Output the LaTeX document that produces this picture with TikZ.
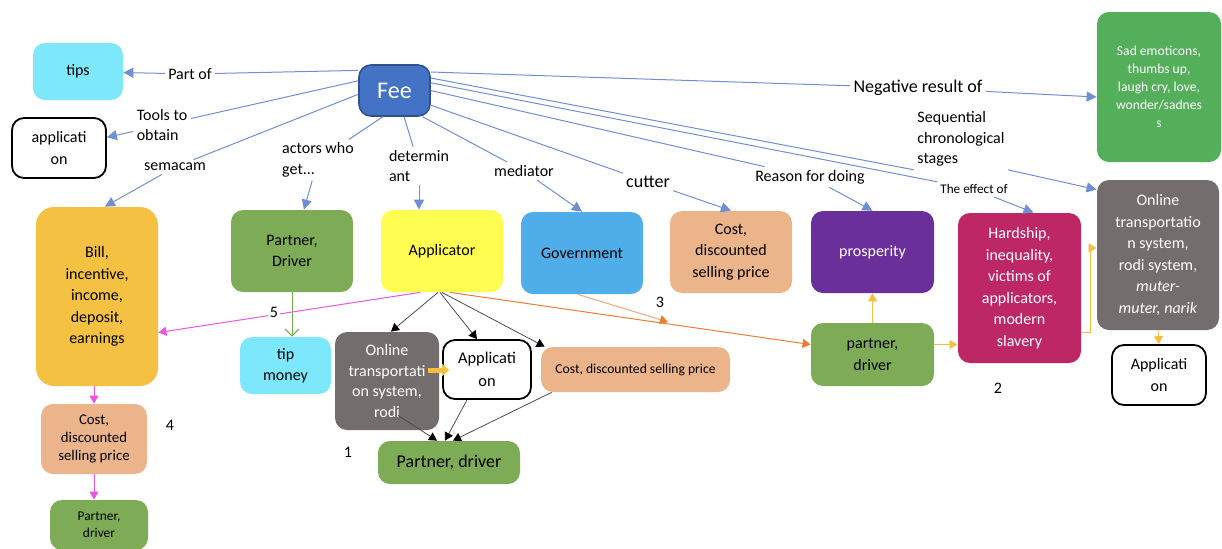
\documentclass[tikz,border=0pt]{standalone}
\usepackage{fontspec}
\setmainfont{Carlito}
\usetikzlibrary{arrows.meta}

\definecolor{feeblue}{HTML}{4472C4}
\definecolor{feeborder}{HTML}{2F528F}
\definecolor{lineblue}{HTML}{6F8FD2}
\definecolor{tipcyan}{HTML}{7DE8FB}
\definecolor{billorange}{HTML}{F4C143}
\definecolor{pgreen}{HTML}{7EAB55}
\definecolor{appyellow}{HTML}{FFFC52}
\definecolor{govblue}{HTML}{4FAEE9}
\definecolor{costtan}{HTML}{ECB48A}
\definecolor{prosp}{HTML}{6B2F9B}
\definecolor{hardmag}{HTML}{BE2766}
\definecolor{sadgreen}{HTML}{54AF5B}
\definecolor{sysgray}{HTML}{736E6D}
\definecolor{pinkline}{HTML}{EE55DD}
\definecolor{orangeline}{HTML}{ED7D31}
\definecolor{lightorange}{HTML}{F2A774}
\definecolor{yellowline}{HTML}{F5BE3F}
\definecolor{greenline}{HTML}{70AD47}

\begin{document}
\begin{tikzpicture}[x=0.5pt,y=-0.5pt,
    box/.style={rounded corners=6pt, align=center, inner sep=1pt, font=\fontsize{8}{10.75}\selectfont},
    whitebox/.style={box, draw=black, line width=0.9pt, fill=white},
    lbl/.style={align=left, inner sep=1.5pt, font=\fontsize{8}{10.25}\selectfont},
    num/.style={inner sep=1pt, fill=white, font=\fontsize{8}{10}\selectfont},
    blue line/.style={draw=lineblue, line width=0.5pt},
    blue arrow/.style={blue line, -{Triangle[length=5pt,width=5pt]}},
    black arrow/.style={draw=black!70, line width=0.4pt, -{Triangle[length=4pt,width=4.5pt,color=black]}},
    pink arrow/.style={draw=pinkline, line width=0.5pt, -{Triangle[length=4pt,width=4.5pt]}},
    orange arrow/.style={draw=orangeline, line width=0.5pt, -{Triangle[length=4pt,width=4.5pt]}},
    light orange arrow/.style={draw=lightorange, line width=0.5pt, -{Triangle[length=4pt,width=4.5pt,color=orangeline]}},
    yellow arrow/.style={draw=yellowline, line width=0.5pt, -{Triangle[length=4pt,width=4.5pt]}},
    yellow block/.style={draw=yellowline, line width=2.5pt, -{Triangle[length=3.5pt,width=6pt]}},
    green arrow/.style={draw=greenline, line width=0.5pt, -{Straight Barb[length=3.5pt,width=7pt]}}]

  \useasboundingbox (0,0) rectangle (1222,548);

  % boxes
  \node[box, fill=tipcyan, minimum width=45pt, minimum height=28.5pt] (tips) at (78,71.5) {tips};
  \node[whitebox, minimum width=47pt, minimum height=30pt] (app1) at (59,148) {applicati\\on};
  \node[box, fill=feeblue, draw=feeborder, line width=0.8pt, text=white, font=\fontsize{12}{14}\selectfont,
        minimum width=35.5pt, minimum height=25.5pt] (fee) at (394.5,90.5) {Fee};
  \node[box, rounded corners=9pt, fill=billorange, minimum width=61pt, minimum height=89.5pt] (bill) at (97,296.5)
        {Bill,\\incentive,\\income,\\deposit,\\earnings};
  \node[box, fill=pgreen, minimum width=61pt, minimum height=41pt] (driver) at (292,251) {Partner,\\Driver};
  \node[box, fill=appyellow, minimum width=61pt, minimum height=41pt] (applicator) at (442,251) {Applicator};
  \node[box, fill=govblue, minimum width=61pt, minimum height=41pt] (gov) at (582,253) {Government};
  \node[box, fill=costtan, minimum width=61pt, minimum height=41pt] (cost) at (731,252) {Cost,\\discounted\\selling price};
  \node[box, fill=prosp, text=white, minimum width=61.5pt, minimum height=41pt] (prosperity) at (872.5,252) {prosperity};
  \node[box, fill=hardmag, text=white, minimum width=61.5pt, minimum height=75pt] (hardship) at (1019.5,288)
        {Hardship,\\inequality,\\victims of\\applicators,\\modern\\slavery};
  \node[box, fill=sadgreen, text=white, font=\fontsize{6.8}{9}\selectfont, minimum width=62pt, minimum height=75pt] (sad) at (1159,87)
        {Sad emoticons,\\thumbs up,\\laugh cry, love,\\wonder/sadnes\\s};
  \node[box, fill=sysgray, text=white, minimum width=61pt, minimum height=75pt] (sysR) at (1158,255)
        {Online\\transportatio\\n system,\\rodi system,\\\textit{muter-}\\\textit{muter, narik}};
  \node[whitebox, minimum width=47pt, minimum height=30pt] (appR) at (1159,375) {Applicati\\on};
  \node[box, fill=tipcyan, minimum width=45.5pt, minimum height=28.5pt] (tipmoney) at (285.5,365.5) {tip\\money};
  \node[box, fill=sysgray, text=white, font=\fontsize{8}{10.25}\selectfont, minimum width=52pt, minimum height=49pt] (sysM) at (387,381)
        {Online\\transportati\\on system,\\rodi};
  \node[whitebox, font=\fontsize{8.2}{11.5}\selectfont, minimum width=44pt, minimum height=29.5pt] (appM) at (487,369.5) {Applicati\\on};
  \node[box, fill=costtan, font=\fontsize{6.8}{9}\selectfont, minimum width=94.5pt, minimum height=22.5pt] (costwide) at (635.5,369.5)
        {Cost, discounted selling price};
  \node[box, fill=pgreen, font=\fontsize{9}{11}\selectfont, minimum width=71pt, minimum height=21.5pt] (driverM) at (449,462.5) {Partner, driver};
  \node[box, fill=costtan, font=\fontsize{7.4}{9}\selectfont, minimum width=53pt, minimum height=35pt] (costL) at (94,439)
        {Cost,\\discounted\\selling price};
  \node[box, fill=pgreen, font=\fontsize{6.7}{8.5}\selectfont, minimum width=49pt, minimum height=25pt] (driverL) at (99,525) {Partner,\\driver};
  \node[box, fill=pgreen, minimum width=61.5pt, minimum height=31.5pt] (driverR) at (872.5,354.5) {partner,\\driver};

  % labels on the fee lines
  \node[lbl] (lpart) at (190,74) {Part of};
  \node[lbl] (ltools) at (162,125) {Tools to\\obtain};
  \node[lbl] (lsema) at (175,167) {semacam};
  \node[lbl] (lactors) at (318,160) {actors who\\get...};
  \node[lbl] (ldet) at (419,166) {determin\\ant};
  \node[lbl] (lmed) at (524,171) {mediator};
  \node[lbl, font=\fontsize{9}{11}\selectfont] (lcut) at (648,182) {cutter};
  \node[lbl] (lreason) at (810,177) {Reason for doing};
  \node[lbl, font=\fontsize{9}{11}\selectfont] (lneg) at (918,88) {Negative result of};
  \node[lbl] (lseq) at (961,139) {Sequential\\chronological\\stages};
  \node[lbl, font=\fontsize{6.6}{8}\selectfont] (leffect) at (974,189) {The effect of};

  % fee lines
  \draw[blue line] (fee.151) -- (lpart);
  \draw[blue arrow] (lpart) -- (tips);
  \draw[blue line] (fee.165) -- (ltools);
  \draw[blue arrow] (ltools) -- (app1);
  \draw[blue line] (fee.186) -- (lsema);
  \draw[blue arrow] (lsema) -- ([xshift=4pt]bill.north);
  \draw[blue line] (fee.246) -- (lactors);
  \draw[blue arrow] (lactors) -- ([xshift=6pt]driver.north);
  \draw[blue line] (fee.-70) -- (ldet);
  \draw[blue arrow] (ldet.south) -- (ldet.south |- applicator.north);
  \draw[blue line] (fee.-43) -- (lmed);
  \draw[blue arrow] (lmed) -- (gov.north);
  \draw[blue line] (fee.-22) -- (lcut);
  \draw[blue arrow] (lcut) -- (cost.north);
  \draw[blue line] (fee.east) -- (lreason);
  \draw[blue arrow] (lreason) -- (prosperity.north);
  \draw[blue line] (fee.12) -- (leffect);
  \draw[blue arrow] (leffect) -- ([xshift=7pt]hardship.north);
  \draw[blue line] (fee.19) -- (lseq.south west);
  \draw[blue arrow] (lseq.south east) -- ([yshift=-5pt]sysR.north west);
  \draw[blue line] (fee.27) -- (lneg);
  \draw[blue arrow] (lneg) -- ([yshift=-5pt]sad.west);

  % other connectors
  \draw[green arrow] (driver.south) -- (driver.south |- tipmoney.north);
  \draw[pink arrow] ([xshift=-11pt]applicator.south) -- ([yshift=-18pt]bill.east);
  \draw[pink arrow] (costL.north |- bill.south) -- (costL.north);
  \draw[pink arrow] (costL.south) -- (costL.south |- driverL.north);
  \draw[black arrow] ([xshift=-2pt]applicator.south) -- ([xshift=2pt]sysM.north);
  \draw[black arrow] ([xshift=-1pt]applicator.south) -- ([xshift=-5pt]appM.north);
  \draw[black arrow] (applicator.south) -- ([xshift=2pt]costwide.north west);
  \draw[orange arrow] ([xshift=4pt]applicator.south) -- ([yshift=5pt]driverR.west);
  \coordinate (gmeet) at (668,322);
  \draw[light orange arrow] ([xshift=-2pt]gov.south) -- (gmeet);
  \draw[black arrow] ([xshift=5.5pt,yshift=7.5pt]sysM.south) -- ([xshift=-6pt]driverM.north);
  \draw[black arrow] ([xshift=-10pt]appM.south) -- ([xshift=-2pt]driverM.north);
  \draw[black arrow] ([xshift=5.5pt]costwide.south west) -- ([xshift=2pt]driverM.north);
  \draw[yellow block] ([xshift=-5.5pt,yshift=5.5pt]sysM.east) -- ([xshift=3.5pt,yshift=5.5pt]sysM.east -| appM.west);
  \draw[yellow arrow] (driverR.north) -- (prosperity.south);
  \draw[yellow arrow] ([yshift=5pt]driverR.east) -- ([yshift=5pt]driverR.east -| hardship.west);
  \draw[yellow arrow] ([yshift=-22pt]hardship.east) -- ++(9,0) |- ([yshift=3.5pt]sysR.west);
  \draw[yellow arrow] (sysR.south) -- (appR.north);

  % numbers
  \node[num] (n5) at (274,312) {5};
  \node[num] (n3) at (660,302) {3};
  \node[num] (n4) at (170,425) {4};
  \node[num] (n1) at (348,452) {1};
  \node[num] (n2) at (998,388) {2};
\end{tikzpicture}
\end{document}
